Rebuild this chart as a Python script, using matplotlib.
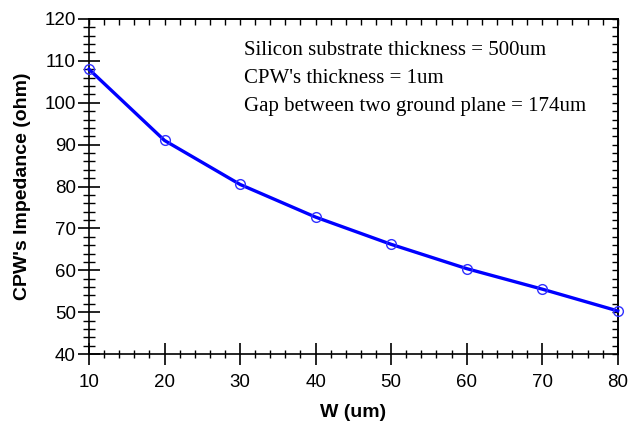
import matplotlib
matplotlib.use('Agg')
import matplotlib.pyplot as plt
from matplotlib.ticker import MultipleLocator

# données
w_um = [10, 20, 30, 40, 50, 60, 70, 80]
impedance = [108.0, 91.0, 80.5, 72.7, 66.2, 60.4, 55.5, 50.3]

notes = ['Silicon substrate thickness = 500um',
         "CPW's thickness = 1um",
         'Gap between two ground plane = 174um']

fig = plt.figure(figsize=(6.31, 4.22), dpi=100)
ax = fig.add_axes([0.141, 0.161, 0.838, 0.794])

ax.plot(w_um, impedance, color='#0000ff', linewidth=2.4, marker='o',
        markersize=7, markerfacecolor='none', markeredgecolor='#3030ff',
        markeredgewidth=1.0, clip_on=False, zorder=5)

ax.set_xlim(10, 80)
ax.set_ylim(40, 120)
for a in (ax.xaxis, ax.yaxis):
    a.set_major_locator(MultipleLocator(10))
    a.set_minor_locator(MultipleLocator(2))

# graduations gauche / bas (traversent l'axe)
ax.tick_params(which='both', direction='inout', top=False, right=False,
               labelsize=13.5, colors='black')
ax.tick_params(axis='y', which='major', length=16, width=1.2, pad=1.5)
ax.tick_params(axis='y', which='minor', length=8, width=1.0)
ax.tick_params(axis='x', which='major', length=16, width=1.2, pad=6)
ax.tick_params(axis='x', which='minor', length=6, width=1.0)
for s in ax.spines.values():
    s.set_linewidth(1.2)

# graduations haut / droite (vers l'intérieur)
top = ax.secondary_xaxis('top')
top.xaxis.set_major_locator(MultipleLocator(10))
top.xaxis.set_minor_locator(MultipleLocator(2))
top.tick_params(which='both', direction='in', labeltop=False, length=4, width=1.0)
right = ax.secondary_yaxis('right')
right.yaxis.set_major_locator(MultipleLocator(10))
right.yaxis.set_minor_locator(MultipleLocator(2))
right.tick_params(which='both', direction='in', labelright=False, length=4, width=1.0)
for sec in (top, right):
    for s in sec.spines.values():
        s.set_linewidth(1.2)

for lab in ax.get_xticklabels() + ax.get_yticklabels():
    lab.set_family('Liberation Sans')

ax.set_xlabel('W (um)', fontsize=14, fontweight='bold', family='Liberation Sans', labelpad=10)
ax.set_ylabel("CPW's Impedance (ohm)", fontsize=14, fontweight='bold', family='Liberation Sans', labelpad=10)

for i, t in enumerate(notes):
    ax.text(0.293, 0.905 - i * 0.083, t, transform=ax.transAxes, fontsize=15,
            family='Liberation Serif', va='center', ha='left')

fig.savefig('out.png', dpi=100)
